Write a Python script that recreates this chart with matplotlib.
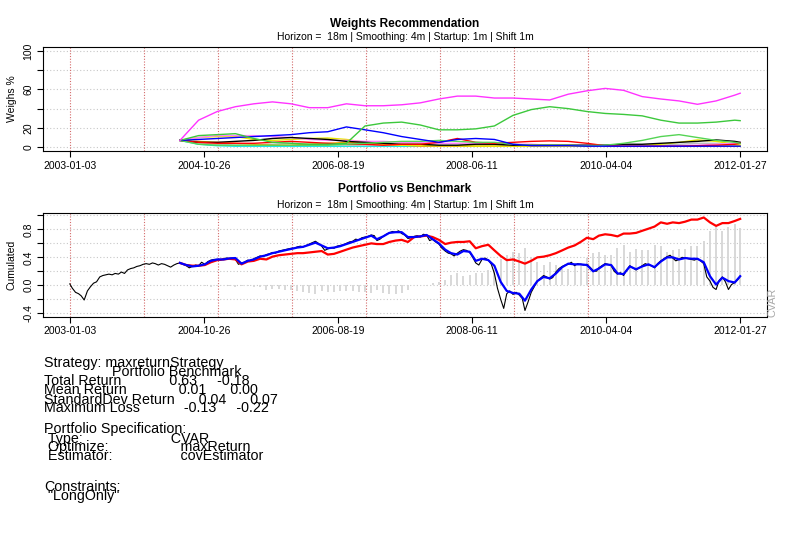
import numpy as np
import pandas as pd
import matplotlib
matplotlib.use("Agg")
import matplotlib.pyplot as plt
import matplotlib.dates as mdates

plt.rcParams["font.family"] = ["Liberation Sans", "DejaVu Sans"]

# ---------------- data ----------------
tick_labels = ["2003-01-03", "2004-10-26", "2006-08-19", "2008-06-11", "2010-04-04", "2012-01-27"]
year_marks = ["2003-01-03", "2004-01-03", "2005-01-03", "2006-01-03",
              "2007-01-03", "2008-01-03", "2009-01-03", "2010-01-03"]

# weights (%), quarterly rebalancing dates
w_dates = list(pd.period_range("2004Q2", "2011Q4", freq="Q").to_timestamp(how="end").normalize()) \
    + [pd.Timestamp("2012-01-27")]
w_magenta = [7, 28, 37, 42, 45, 47, 45, 41, 41, 45, 43, 43, 44, 46, 50, 53,
             53, 51, 51, 50, 49, 55, 58.5, 61, 59, 52.5, 50, 48, 44.5, 48, 54, 56]
w_green = [7, 12, 13, 14, 9, 5, 4, 3, 3, 4, 22, 25, 26, 23, 18, 18,
           19, 22, 33, 39, 42, 40, 37, 35, 34, 32.5, 28, 25, 25, 26, 28, 27.5]
w_lime = [7, 3, 2, 2, 2, 2, 2, 2, 2, 3, 4, 5, 6, 6, 7, 6,
          5, 5, 3, 2, 2, 2, 1.5, 2, 4, 7, 11, 13, 10, 7, 5, 4]
w_blue = [7, 8, 9, 10, 11, 12, 13, 15, 16, 21, 18, 15, 11, 8, 5, 8,
          9, 8, 3, 1.5, 1.5, 1.5, 1, 1, 1, 1, 1, 1, 1, 1, 1, 1]
w_red = [7, 5, 4, 4, 4, 5, 6, 5, 4, 3, 3, 2, 3, 3, 5, 9,
         5, 4, 5, 6, 6.5, 6, 4, 1.5, 1, 1, 1, 1, 1.5, 2, 3, 4]
w_black = [7, 5, 5, 6, 7, 9, 10, 9, 8, 6, 5, 4, 3, 3, 2, 2,
           3, 3, 2, 2, 2, 2, 2, 2, 3, 3, 4, 5, 6, 7.5, 6, 5]
w_yellow = [7, 10, 11, 11, 8, 7, 8, 9, 9.5, 8, 5, 3, 2, 2, 1.5, 1.5,
            1, 1, 1, 1, 1, 1, 1, 1, 1.5, 2, 3, 5, 7.5, 6, 3, 2]
w_cyan = [7, 3, 1.5, 1, 1, 1, 1, 1, 1, 1, 1, 1, 1, 1, 1, 1,
          1, 1, 1, 1, 1, 1, 1, 1, 1, 1, 1, 1, 1, 1, 1, 1]
w_gray = [7, 4, 3, 2, 2, 3, 4, 3, 3, 2, 2, 2, 2, 2, 2, 2,
          2, 2, 2, 2, 2, 2, 2, 2, 2, 2, 2, 3, 4, 4, 3, 2]
w_orchid = [7, 10, 12, 12, 12, 11, 10, 8, 7, 7, 6, 6, 5, 5, 4, 4,
            4, 4, 3, 3, 2, 2, 2, 1, 1, 1, 1, 1.5, 2, 3, 4, 5]
w_orange = [7, 6, 5, 4, 3, 2, 2, 3, 4, 5, 4, 3, 2, 1, 1, 1,
            1, 1, 1, 1, 1, 1, 1, 1, 1, 1, 1, 1, 1, 1, 1, 1]

# cumulated returns, monthly
m_dates = list(pd.period_range("2004-06", "2011-12", freq="M").to_timestamp(how="end").normalize()) \
    + [pd.Timestamp("2012-01-27")]
portfolio = [0.32, 0.29, 0.28, 0.28, 0.29, 0.33, 0.36,
             0.37, 0.38, 0.37, 0.30, 0.34, 0.35, 0.38, 0.37, 0.41, 0.43, 0.44, 0.45,
             0.46, 0.46, 0.47, 0.48, 0.49, 0.44, 0.45, 0.48, 0.51, 0.54, 0.56, 0.58,
             0.60, 0.59, 0.59, 0.62, 0.64, 0.65, 0.62, 0.69, 0.70, 0.71, 0.69, 0.65,
             0.59, 0.61, 0.62, 0.62, 0.63, 0.53, 0.56, 0.58, 0.50, 0.42, 0.36, 0.37,
             0.34, 0.31, 0.35, 0.40, 0.41, 0.43, 0.46, 0.50, 0.54, 0.57, 0.62, 0.68,
             0.66, 0.71, 0.73, 0.72, 0.70, 0.74, 0.74, 0.75, 0.78, 0.81, 0.84, 0.90,
             0.88, 0.90, 0.89, 0.91, 0.94, 0.94, 0.97, 0.90, 0.85, 0.89, 0.89, 0.92,
             0.95]
benchmark_smooth = [0.32, 0.29, 0.27, 0.28, 0.30, 0.35, 0.37,
                    0.37, 0.385, 0.39, 0.31, 0.35, 0.37, 0.41, 0.43, 0.46, 0.48, 0.50, 0.52,
                    0.54, 0.55, 0.58, 0.61, 0.57, 0.53, 0.54, 0.56, 0.59, 0.62, 0.65, 0.68,
                    0.71, 0.66, 0.70, 0.75, 0.76, 0.76, 0.69, 0.69, 0.70, 0.72, 0.66, 0.60,
                    0.51, 0.46, 0.44, 0.49, 0.48, 0.35, 0.38, 0.36, 0.28, 0.05, -0.08, -0.11,
                    -0.12, -0.22, -0.06, 0.06, 0.12, 0.10, 0.17, 0.26, 0.31, 0.30, 0.30, 0.29,
                    0.20, 0.24, 0.30, 0.29, 0.17, 0.16, 0.27, 0.23, 0.27, 0.30, 0.26, 0.34,
                    0.40, 0.40, 0.37, 0.39, 0.38, 0.38, 0.33, 0.13, 0.01, 0.11, 0.06, 0.04,
                    0.13]

# benchmark, half-monthly
b_dates = [pd.Timestamp("2003-01-03")]
for p in pd.period_range("2003-01", "2011-12", freq="M"):
    b_dates += [p.start_time + pd.Timedelta(days=14), p.end_time.normalize()]
b_dates += [pd.Timestamp("2012-01-15"), pd.Timestamp("2012-01-27")]
benchmark = ([0.02]
    + [-0.04, -0.10, -0.12, -0.15, -0.21, -0.08, -0.02, 0.03, 0.05, 0.12, 0.14, 0.15,
       0.16, 0.15, 0.17, 0.16, 0.19, 0.17, 0.22, 0.24, 0.25, 0.27, 0.28, 0.30]
    + [0.31, 0.30, 0.32, 0.31, 0.29, 0.31, 0.30, 0.28, 0.26, 0.29, 0.31, 0.32,
       0.30, 0.28, 0.25, 0.27, 0.29, 0.28, 0.33, 0.30, 0.34, 0.36, 0.37, 0.37]
    + [0.36, 0.38, 0.39, 0.38, 0.39, 0.37, 0.30, 0.32, 0.33, 0.36, 0.35, 0.38,
       0.40, 0.42, 0.41, 0.44, 0.45, 0.47, 0.46, 0.49, 0.50, 0.51, 0.52, 0.53]
    + [0.53, 0.55, 0.56, 0.55, 0.57, 0.59, 0.61, 0.63, 0.60, 0.56, 0.50, 0.52,
       0.54, 0.53, 0.56, 0.57, 0.58, 0.60, 0.62, 0.63, 0.66, 0.65, 0.68, 0.69]
    + [0.70, 0.72, 0.71, 0.64, 0.66, 0.70, 0.73, 0.75, 0.77, 0.76, 0.78, 0.74,
       0.72, 0.67, 0.68, 0.70, 0.71, 0.69, 0.73, 0.72, 0.64, 0.66, 0.62, 0.59]
    + [0.53, 0.49, 0.46, 0.45, 0.42, 0.46, 0.49, 0.51, 0.50, 0.47, 0.40, 0.32,
       0.29, 0.37, 0.39, 0.36, 0.30, 0.17, -0.04, -0.20, -0.33, -0.12, -0.08, -0.13]
    + [-0.10, -0.14, -0.19, -0.36, -0.24, -0.10, -0.02, 0.06, 0.10, 0.14, 0.12, 0.09,
       0.11, 0.19, 0.24, 0.27, 0.29, 0.30, 0.33, 0.28, 0.31, 0.30, 0.29, 0.30]
    + [0.26, 0.21, 0.20, 0.25, 0.28, 0.31, 0.30, 0.28, 0.20, 0.16, 0.18, 0.14,
       0.22, 0.28, 0.25, 0.22, 0.25, 0.28, 0.31, 0.29, 0.28, 0.25, 0.31, 0.35]
    + [0.38, 0.41, 0.43, 0.39, 0.35, 0.37, 0.40, 0.39, 0.38, 0.37, 0.36, 0.38,
       0.35, 0.31, 0.12, 0.06, -0.03, -0.06, 0.07, 0.12, 0.05, -0.06, 0.01, 0.04]
    + [0.08, 0.13])

text_lines = [
    "Strategy: maxreturnStrategy",
    " " * 17 + "Portfolio Benchmark",
    "Total Return" + " " * 12 + "0.63" + " " * 5 + "-0.18",
    "Mean Return" + " " * 13 + "0.01" + " " * 6 + "0.00",
    "StandardDev Return" + " " * 6 + "0.04" + " " * 6 + "0.07",
    "Maximum Loss" + " " * 11 + "-0.13" + " " * 5 + "-0.22",
    "Portfolio Specification:",
    " Type:" + " " * 22 + "CVAR",
    " Optimize:" + " " * 18 + "maxReturn",
    " Estimator:" + " " * 17 + "covEstimator",
    "Constraints:",
    ' "LongOnly"',
]
text_baselines = [367.5, 376, 385, 394, 403.5, 412, 433.5, 442.5, 451.5, 460.5, 491, 500]

subtitle = "Horizon =  18m | Smoothing: 4m | Startup: 1m | Shift 1m"

# ---------------- plot ----------------
W, H = 796, 545
fig = plt.figure(figsize=(W / 100, H / 100), dpi=100)
ax1 = fig.add_axes([43 / W, 1 - 151 / H, 724 / W, 104 / H])
ax2 = fig.add_axes([43 / W, 1 - 316.7 / H, 724 / W, 103.4 / H])

tick_pos = pd.to_datetime(tick_labels)
start, end = tick_pos[0], tick_pos[-1]
pad = (end - start) * 0.04
grid_kw = dict(color="#C8C8C8", ls=(0, (1, 2)), lw=0.8, zorder=0)
vline_kw = dict(color="#D46A6A", ls=(0, (1, 1.5)), lw=0.8, zorder=1)

# weights panel
for v in [0, 20, 40, 60, 80, 100]:
    ax1.axhline(v, **grid_kw)
for d in pd.to_datetime(year_marks):
    ax1.axvline(d, **vline_kw)
series = [(w_cyan, "#00E5E5"), (w_gray, "#BEBEBE"), (w_orange, "#FFA500"),
          (w_yellow, "#E8E800"), (w_orchid, "#FF80FF"), (w_black, "#000000"),
          (w_red, "#FF0000"), (w_lime, "#55D455"), (w_blue, "#0000FF"),
          (w_green, "#3CC83C"), (w_magenta, "#FF33FF")]
for vals, col in series:
    ax1.plot(w_dates, vals, color=col, lw=1.0, zorder=3)
ax1.set_ylim(-4, 104)
ax1.set_yticks([0, 20, 40, 60, 80, 100])
ax1.set_yticklabels(["0", "20", "", "60", "", "100"], rotation=90, va="center")

# performance panel
for v in np.arange(-0.4, 1.01, 0.2):
    ax2.axhline(v, **grid_kw)
for d in pd.to_datetime(year_marks):
    ax2.axvline(d, **vline_kw)
diff = np.array(portfolio) - np.array(benchmark_smooth)
ax2.vlines(m_dates, 0, diff, color="#D6D6D6", lw=1.3, zorder=2)
ax2.plot(b_dates, benchmark, color="black", lw=0.8, zorder=3)
ax2.plot(m_dates, portfolio, color="#FF0000", lw=1.6, zorder=4)
ax2.plot(m_dates, benchmark_smooth, color="#0000FF", lw=1.6, zorder=5)
ax2.set_ylim(-0.449, 1.03)
ax2.set_yticks([-0.4, -0.2, 0.0, 0.2, 0.4, 0.6, 0.8, 1.0])
ax2.set_yticklabels(["-0.4", "", "0.0", "", "0.4", "", "0.8", ""], rotation=90, va="center")

for ax in (ax1, ax2):
    ax.set_xlim(start - pad, end + pad)
    ax.set_xticks(tick_pos)
    ax.set_xticklabels(tick_labels)
    ax.tick_params(direction="out", length=4, width=0.8, labelsize=7.5, pad=3, color="black")
    for s in ax.spines.values():
        s.set_linewidth(0.8)
        s.set_color("black")

# titles and labels
fig.text(405 / W, 1 - 23.5 / H, "Weights Recommendation", ha="center", va="center",
         fontsize=8.6, fontweight="bold")
fig.text(405 / W, 1 - 37.5 / H, subtitle, ha="center", va="center", fontsize=7.5)
fig.text(405 / W, 1 - 189 / H, "Portfolio vs Benchmark", ha="center", va="center",
         fontsize=8.6, fontweight="bold")
fig.text(405 / W, 1 - 204.5 / H, subtitle, ha="center", va="center", fontsize=7.5)
fig.text(12 / W, 1 - 99 / H, "Weighs %", rotation=90, ha="center", va="center", fontsize=7.5)
fig.text(12 / W, 1 - 265 / H, "Cumulated", rotation=90, ha="center", va="center", fontsize=7.5)
fig.text(772.5 / W, 1 - 317 / H, "CVAR", rotation=90, ha="center", va="bottom",
         fontsize=7.8, color="#A8A8A8")

for line, yb in zip(text_lines, text_baselines):
    fig.text(44 / W, 1 - yb / H, line, ha="left", va="baseline", fontsize=10.3)

fig.savefig("out.png", dpi=100)
